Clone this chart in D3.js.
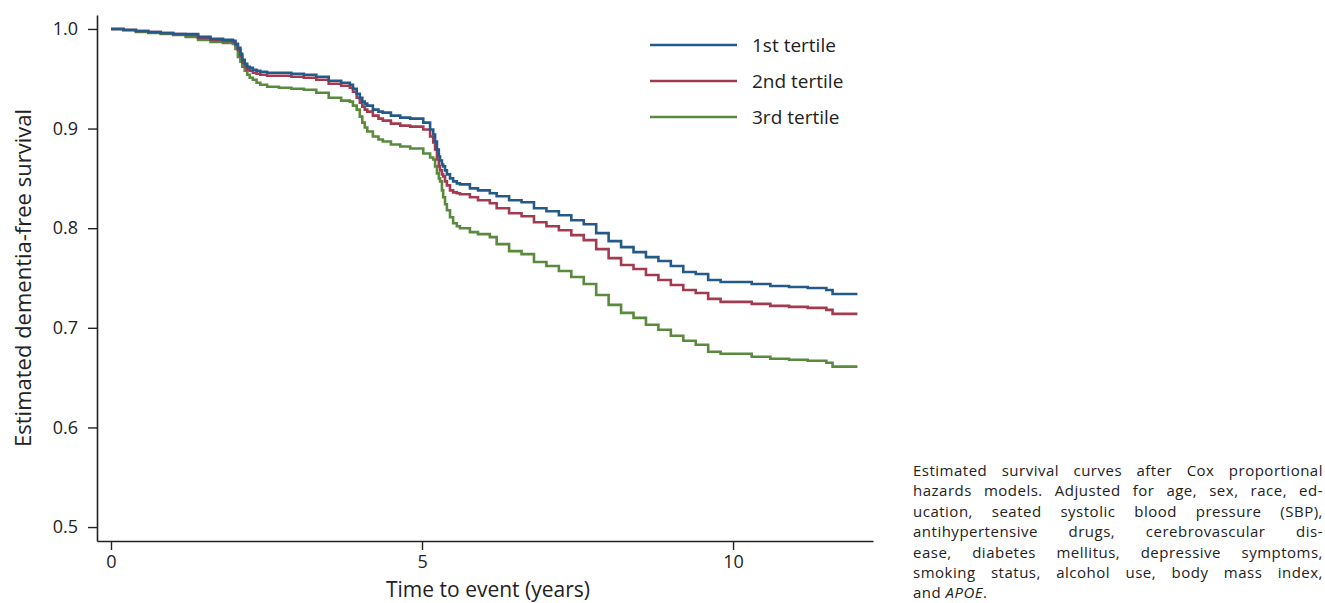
<!DOCTYPE html>
<html>
<head>
<meta charset="utf-8">
<script src="https://cdn.jsdelivr.net/npm/d3@7"></script>
<style>
  html, body { margin: 0; padding: 0; background: #fff; }
  body { width: 1325px; height: 603px; position: relative; overflow: hidden; font-family: "Open Sans", "Noto Sans", sans-serif; }
  svg { position: absolute; left: 0; top: 0; }
  #caption { position: absolute; left: 913px; top: 460px; width: 410px; font-size: 15px; letter-spacing: 0.5px; line-height: 20.4px; color: #222; }
  #caption .ln { height: 20.4px; text-align: justify; text-align-last: justify; white-space: nowrap; }
  #caption .ln.last { text-align-last: left; }
</style>
</head>
<body>
<div id="caption"></div>
<script>
// ---- Data ----
const times = [0, 0.2, 0.4, 0.6, 0.8, 1.0, 1.2, 1.4, 1.6, 1.8,
  1.96, 2.0, 2.04, 2.08, 2.11, 2.15, 2.19, 2.23, 2.28, 2.34,
  2.4, 2.51, 2.7, 2.9, 3.1, 3.3, 3.5, 3.7, 3.84, 3.89,
  3.95, 4.0, 4.04, 4.08, 4.12, 4.21, 4.3, 4.37, 4.5, 4.65,
  4.81, 5.02, 5.13, 5.18, 5.21, 5.24, 5.27, 5.29, 5.32, 5.34,
  5.37, 5.40, 5.45, 5.50, 5.56, 5.61, 5.77, 5.9, 6.09, 6.2,
  6.4, 6.6, 6.8, 7.0, 7.2, 7.4, 7.6, 7.8, 8.0, 8.2,
  8.4, 8.6, 8.8, 9.0, 9.2, 9.4, 9.6, 9.8, 10.0, 10.3,
  10.6, 10.9, 11.2, 11.5, 11.6, 12.0];

const tertile1 = [1.000, 0.999, 0.998, 0.997, 0.996, 0.995, 0.995, 0.992, 0.990, 0.989,
  0.988, 0.985, 0.981, 0.975, 0.969, 0.965, 0.962, 0.961, 0.959, 0.958,
  0.957, 0.956, 0.956, 0.955, 0.954, 0.952, 0.948, 0.946, 0.944, 0.940,
  0.935, 0.931, 0.927, 0.925, 0.923, 0.919, 0.917, 0.916, 0.913, 0.911,
  0.910, 0.906, 0.899, 0.894, 0.887, 0.879, 0.872, 0.868, 0.864, 0.862,
  0.858, 0.854, 0.850, 0.847, 0.845, 0.844, 0.840, 0.838, 0.835, 0.832,
  0.828, 0.826, 0.820, 0.817, 0.813, 0.808, 0.804, 0.795, 0.787, 0.781,
  0.776, 0.771, 0.767, 0.762, 0.756, 0.754, 0.748, 0.746, 0.746, 0.744,
  0.742, 0.741, 0.740, 0.738, 0.734, 0.734];

const tertile2 = [1.000, 0.999, 0.998, 0.997, 0.996, 0.995, 0.994, 0.991, 0.989, 0.988,
  0.987, 0.984, 0.979, 0.973, 0.966, 0.962, 0.959, 0.958, 0.956, 0.955,
  0.954, 0.953, 0.953, 0.952, 0.951, 0.949, 0.945, 0.943, 0.941, 0.937,
  0.931, 0.926, 0.922, 0.919, 0.917, 0.913, 0.910, 0.908, 0.905, 0.903,
  0.902, 0.899, 0.892, 0.886, 0.879, 0.869, 0.862, 0.858, 0.854, 0.852,
  0.847, 0.843, 0.838, 0.836, 0.835, 0.834, 0.831, 0.828, 0.825, 0.820,
  0.815, 0.812, 0.806, 0.802, 0.798, 0.793, 0.788, 0.779, 0.770, 0.763,
  0.759, 0.753, 0.748, 0.743, 0.738, 0.735, 0.729, 0.726, 0.726, 0.724,
  0.722, 0.721, 0.720, 0.718, 0.714, 0.714];

const tertile3 = [1.000, 0.999, 0.997, 0.996, 0.995, 0.994, 0.992, 0.989, 0.987, 0.986,
  0.985, 0.980, 0.972, 0.967, 0.962, 0.958, 0.954, 0.951, 0.949, 0.946,
  0.944, 0.942, 0.941, 0.940, 0.939, 0.936, 0.931, 0.928, 0.927, 0.923,
  0.919, 0.912, 0.906, 0.901, 0.897, 0.892, 0.889, 0.887, 0.884, 0.882,
  0.880, 0.875, 0.871, 0.869, 0.862, 0.855, 0.850, 0.847, 0.838, 0.831,
  0.824, 0.818, 0.811, 0.805, 0.802, 0.800, 0.796, 0.794, 0.791, 0.784,
  0.777, 0.774, 0.766, 0.762, 0.757, 0.751, 0.744, 0.733, 0.723, 0.715,
  0.710, 0.703, 0.698, 0.692, 0.687, 0.683, 0.676, 0.674, 0.674, 0.671,
  0.669, 0.668, 0.667, 0.665, 0.661, 0.661];

const seriesNames = ["1st tertile", "2nd tertile", "3rd tertile"];
const seriesColors = ["#245a8a", "#a33b50", "#5a8a3e"];
const xTicks = [0, 5, 10];
const yTicks = [0.5, 0.6, 0.7, 0.8, 0.9, 1.0];
const xTitle = "Time to event (years)";
const yTitle = "Estimated dementia-free survival";
const captionLines = [
  "Estimated survival curves after Cox proportional",
  "hazards models. Adjusted for age, sex, race, ed-",
  "ucation, seated systolic blood pressure (SBP),",
  "antihypertensive drugs, cerebrovascular dis-",
  "ease, diabetes mellitus, depressive symptoms,",
  "smoking status, alcohol use, body mass index,",
  "and <i>APOE</i>."
];

// ---- Chart ----
const W = 1325, H = 603;
const svg = d3.select("body").append("svg").attr("width", W).attr("height", H);

const x = d3.scaleLinear().domain([-0.225, 12.25]).range([97, 873]);
const y = d3.scaleLinear().domain([0.486, 1.014]).range([541, 15]);

const font = '"Open Sans", "Noto Sans", sans-serif';
const axisColor = "#222";

// axes
const gx = svg.append("g").attr("transform", "translate(0,541)")
  .call(d3.axisBottom(x).tickValues(xTicks).tickFormat(d3.format("d")).tickSize(9).tickPadding(5).tickSizeOuter(0));
const gy = svg.append("g").attr("transform", "translate(97,0)")
  .call(d3.axisLeft(y).tickValues(yTicks).tickFormat(d3.format(".1f")).tickSize(9).tickPadding(10).tickSizeOuter(0));
[gx, gy].forEach(g => {
  g.select(".domain").attr("stroke", axisColor).attr("stroke-width", 1.6);
  g.selectAll(".tick line").attr("stroke", axisColor).attr("stroke-width", 1.4);
  g.selectAll(".tick text").attr("fill", "#222").style("font-family", font).style("font-size", "18px");
});

// titles
svg.append("text").attr("x", 488).attr("y", 596.5).attr("text-anchor", "middle")
  .style("font-family", font).style("font-size", "21px").attr("fill", "#222").text(xTitle);
svg.append("text").attr("transform", "translate(31,278) rotate(-90)").attr("text-anchor", "middle")
  .style("font-family", font).style("font-size", "22px").attr("fill", "#222").text(yTitle);

// curves
const allSeries = [tertile1, tertile2, tertile3];
const line = d3.line().x(d => x(d[0])).y(d => y(d[1])).curve(d3.curveStepAfter);
[2, 1, 0].forEach(i => {
  const pts = times.map((t, j) => [t, allSeries[i][j]]);
  svg.append("path").datum(pts).attr("d", line)
    .attr("fill", "none").attr("stroke", seriesColors[i]).attr("stroke-width", 2.6)
    .attr("stroke-linejoin", "miter");
});

// legend
const legY = [45, 81, 117];
seriesNames.forEach((name, i) => {
  svg.append("line").attr("x1", 650).attr("x2", 737).attr("y1", legY[i]).attr("y2", legY[i])
    .attr("stroke", seriesColors[i]).attr("stroke-width", 2.6);
  svg.append("text").attr("x", 752).attr("y", legY[i]).attr("dy", "0.35em")
    .style("font-family", font).style("font-size", "19px").attr("fill", "#222").text(name);
});

// caption
const cap = d3.select("#caption");
captionLines.forEach((l, i) => {
  cap.append("div").attr("class", "ln" + (i === captionLines.length - 1 ? " last" : "")).html(l);
});
</script>
</body>
</html>
